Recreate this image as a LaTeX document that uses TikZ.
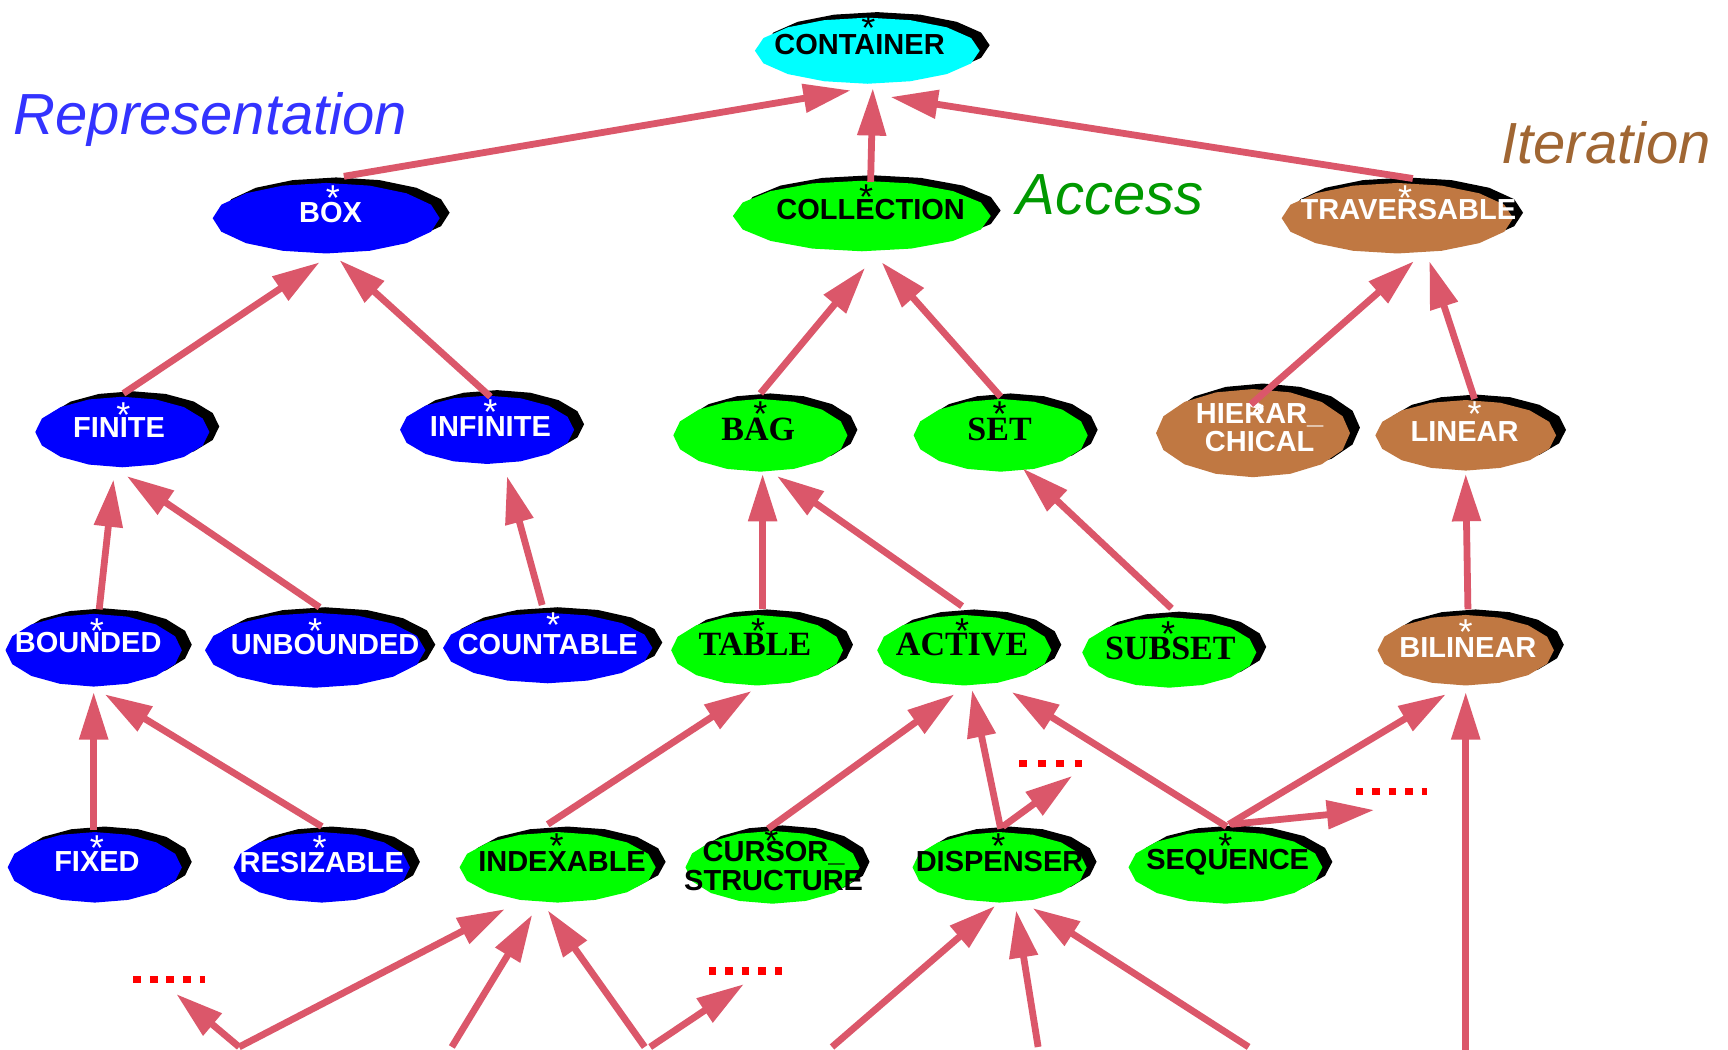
\documentclass[tikz,border=0pt]{standalone}
\usepackage{fontspec}
\setmainfont{Liberation Sans}
\newfontfamily\serifb{Liberation Serif}
\usetikzlibrary{arrows.meta}
\definecolor{arrowc}{RGB}{219,87,106}
\definecolor{brownc}{RGB}{192,120,66}
\definecolor{bluec}{RGB}{0,0,255}
\definecolor{greenc}{RGB}{0,255,0}
\definecolor{cyanc}{RGB}{0,255,255}
\definecolor{repc}{RGB}{51,51,255}
\definecolor{accc}{RGB}{0,153,0}
\definecolor{itc}{RGB}{160,102,51}
\newcommand\classoval[6]{%
  \coordinate (#1) at (#2,#3);
  \fill[black] plot[samples=17,domain=0:360,variable=\t] ({#2+9+#4*cos(\t)},{#3-5+#5*sin(\t)}) -- cycle;
  \fill[#6] plot[samples=17,domain=0:360,variable=\t] ({#2+#4*cos(\t)},{#3+#5*sin(\t)}) -- cycle;
}
\begin{document}
\begin{tikzpicture}[x=0.551pt,y=-0.551pt,
  arr/.style={draw=arrowc, line width=3.4pt, -{Triangle[length=23.7pt,width=13.8pt]}},
  wlbl/.style={font=\fontsize{14.5}{14.3}\selectfont\bfseries, text=white, inner sep=0, align=center},
  klbl/.style={wlbl, text=black},
  slbl/.style={font=\serifb\fontsize{17}{18}\selectfont\bfseries, text=black, inner sep=0},
  wstar/.style={font=\fontsize{18}{18}\selectfont, text=white, inner sep=0, anchor=north},
  kstar/.style={wstar, text=black},
  dots/.style={draw=red, line width=3.6pt},
  grp/.style={font=\fontsize{29}{30}\selectfont\itshape, inner sep=0, anchor=base west}
]
\fill[white] (0,0) rectangle (1568,952);
\useasboundingbox (0,0) rectangle (1568,952);

% group labels
\node[grp, text=repc] (rep) at (12,122) {Representation};
\node[grp, text=accc] (acc) at (922,195) {Access};
\node[grp, text=itc] (iter) at (1362,148) {Iteration};

% row 0
\classoval{CONTAINER}{787}{46}{102}{30}{cyanc}
\node[klbl] (CONTAINER-t) at (780,40) {CONTAINER};
\node[kstar] (CONTAINER-a) at (788,14) {*};

% row 1
\classoval{BOX}{296}{198}{103}{32}{bluec}
\node[wlbl] (BOX-t) at (300,193) {BOX};
\node[wstar] (BOX-a) at (302,168) {*};

\classoval{COLLECTION}{782}{196}{117}{32}{greenc}
\node[klbl] (COLLECTION-t) at (790,190) {COLLECTION};
\node[kstar] (COLLECTION-a) at (786,167) {*};

\classoval{TRAVERSABLE}{1268}{198}{105}{32}{brownc}
\node[wlbl] (TRAVERSABLE-t) at (1278,190) {TRAVERSABLE};
\node[wstar] (TRAVERSABLE-a) at (1275,168) {*};

% row 2
\classoval{FINITE}{111}{392}{79}{32}{bluec}
\node[wlbl] (FINITE-t) at (108,388) {FINITE};
\node[wstar] (FINITE-a) at (112,365) {*};

\classoval{INFINITE}{442}{390}{79}{31}{bluec}
\node[wlbl] (INFINITE-t) at (445,387) {INFINITE};
\node[wstar] (INFINITE-a) at (445,362) {*};

\classoval{BAG}{690}{395}{79}{33}{greenc}
\node[slbl] (BAG-t) at (688,390) {BAG};
\node[kstar] (BAG-a) at (690,364) {*};

\classoval{SET}{908}{395}{79}{33}{greenc}
\node[slbl] (SET-t) at (907,390) {SET};
\node[kstar] (SET-a) at (907,364) {*};

\classoval{HIERAR}{1137}{393}{88}{40}{brownc}
\node[wlbl] (HIERAR-t) at (1143,388) {HIERAR\_\\CHICAL};
\node[wstar] (HIERAR-a) at (1141,364) {*};

\classoval{LINEAR}{1330}{395}{82}{32}{brownc}
\node[wlbl] (LINEAR-t) at (1329,392) {LINEAR};
\node[wstar] (LINEAR-a) at (1338,364) {*};

% row 3
\classoval{BOUNDED}{85}{590}{80}{33}{bluec}
\node[wlbl] (BOUNDED-t) at (80,583) {BOUNDED};
\node[wstar] (BOUNDED-a) at (88,561) {*};

\classoval{UNBOUNDED}{286}{590}{100}{34}{bluec}
\node[wlbl] (UNBOUNDED-t) at (295,585) {UNBOUNDED};
\node[wstar] (UNBOUNDED-a) at (286,561) {*};

\classoval{COUNTABLE}{497}{588}{95}{32}{bluec}
\node[wlbl] (COUNTABLE-t) at (497,585) {COUNTABLE};
\node[wstar] (COUNTABLE-a) at (502,556) {*};

\classoval{TABLE}{687}{590}{78}{32}{greenc}
\node[slbl] (TABLE-t) at (685,585) {TABLE};
\node[kstar] (TABLE-a) at (688,561) {*};

\classoval{ACTIVE}{875}{590}{79}{32}{greenc}
\node[slbl] (ACTIVE-t) at (873,585) {ACTIVE};
\node[kstar] (ACTIVE-a) at (873,561) {*};

\classoval{SUBSET}{1061}{592}{79}{32}{greenc}
\node[slbl] (SUBSET-t) at (1062,588) {SUBSET};
\node[kstar] (SUBSET-a) at (1060,564) {*};

\classoval{BILINEAR}{1330}{590}{80}{32}{brownc}
\node[wlbl] (BILINEAR-t) at (1332,588) {BILINEAR};
\node[wstar] (BILINEAR-a) at (1330,562) {*};

% row 4
\classoval{FIXED}{86}{787}{79}{32}{bluec}
\node[wlbl] (FIXED-t) at (88,782) {FIXED};
\node[wstar] (FIXED-a) at (88,758) {*};

\classoval{RESIZABLE}{292}{787}{80}{32}{bluec}
\node[wlbl] (RESIZABLE-t) at (292,783) {RESIZABLE};
\node[wstar] (RESIZABLE-a) at (290,758) {*};

\classoval{INDEXABLE}{506}{787}{89}{32}{greenc}
\node[klbl] (INDEXABLE-t) at (510,782) {INDEXABLE};
\node[kstar] (INDEXABLE-a) at (505,756) {*};

\classoval{CURSOR}{701}{787}{79}{33}{greenc}
\node[klbl] (CURSOR-t) at (702,786) {CURSOR\_\\STRUCTURE};
\node[kstar] (CURSOR-a) at (700,752) {*};

\classoval{DISPENSER}{907}{787}{79}{32}{greenc}
\node[klbl] (DISPENSER-t) at (907,782) {DISPENSER};
\node[kstar] (DISPENSER-a) at (906,756) {*};

\classoval{SEQUENCE}{1112}{787}{88}{33}{greenc}
\node[klbl] (SEQUENCE-t) at (1114,782) {SEQUENCE};
\node[kstar] (SEQUENCE-a) at (1112,756) {*};

% dashed "more" markers
\coordinate (d1a) at (925,693); \coordinate (d1b) at (982,693);
\coordinate (d2a) at (1230,718); \coordinate (d2b) at (1295,718);
\coordinate (d3a) at (121,889); \coordinate (d3b) at (186,889);
\coordinate (d4a) at (643,881); \coordinate (d4b) at (710,881);
\draw[dots, dash pattern=on 3.86pt off 5.35pt] (d1a) -- (d1b);
\draw[dots, dash pattern=on 3.86pt off 4.41pt] (d2a) -- (d2b);
\draw[dots, dash pattern=on 3.86pt off 4.41pt] (d3a) -- (d3b);
\draw[dots, dash pattern=on 3.86pt off 4.41pt] (d4a) -- (d4b);
\coordinate (d1tip) at (973,704);
\coordinate (d2tip) at (1247,735);
\coordinate (d3tip) at (160,902);
\coordinate (d4tip) at (675,893);

% free lower ends
\coordinate (b1) at (217,950);
\coordinate (b2) at (410,950);
\coordinate (b3) at (585,950);
\coordinate (b4) at (590,950);
\coordinate (b5) at (755,950);
\coordinate (b6) at (942,950);
\coordinate (b7) at (1133,950);
\coordinate (b9) at (1330,955);

% connectors
\draw[arr] ([shift={(16,-38)}]BOX) -- ([shift={(-15,36)}]CONTAINER);
\draw[arr] ([shift={(8,-31)}]COLLECTION) -- ([shift={(5,34)}]CONTAINER);
\draw[arr] ([shift={(14,-36)}]TRAVERSABLE) -- ([shift={(21,42)}]CONTAINER);
\draw[arr] ([shift={(1,-35)}]FINITE) -- ([shift={(-6,40)}]BOX);
\draw[arr] ([shift={(3,-30)}]INFINITE) -- ([shift={(12,38)}]BOX);
\draw[arr] ([shift={(0,-38)}]BAG) -- ([shift={(3,47)}]COLLECTION);
\draw[arr] ([shift={(0,-35)}]SET) -- ([shift={(18,42)}]COLLECTION);
\draw[arr] ([shift={(-2,-26)}]HIERAR) -- ([shift={(15,39)}]TRAVERSABLE);
\draw[arr] ([shift={(8,-33)}]LINEAR) -- ([shift={(29,39)}]TRAVERSABLE);
\draw[arr] ([shift={(5,-37)}]BOUNDED) -- ([shift={(-8,43)}]FINITE);
\draw[arr] ([shift={(4,-39)}]UNBOUNDED) -- ([shift={(4,40)}]FINITE);
\draw[arr] ([shift={(-5,-39)}]COUNTABLE) -- ([shift={(18,42)}]INFINITE);
\draw[arr] ([shift={(5,-37)}]TABLE) -- ([shift={(2,35)}]BAG);
\draw[arr] ([shift={(-2,-40)}]ACTIVE) -- ([shift={(15,37)}]BAG);
\draw[arr] ([shift={(2,-40)}]SUBSET) -- ([shift={(20,30)}]SET);
\draw[arr] ([shift={(2,-37)}]BILINEAR) -- ([shift={(0,35)}]LINEAR);
\draw[arr] ([shift={(-1,-34)}]FIXED) -- ([shift={(0,38)}]BOUNDED);
\draw[arr] ([shift={(0,-37)}]RESIZABLE) -- ([shift={(10,40)}]BOUNDED);
\draw[arr] ([shift={(-9,-39)}]INDEXABLE) -- ([shift={(-5,37)}]TABLE);
\draw[arr] ([shift={(-4,-35)}]CURSOR) -- ([shift={(-9,40)}]ACTIVE);
\draw[arr] ([shift={(1,-35)}]DISPENSER) -- ([shift={(7,36)}]ACTIVE);
\draw[arr] ([shift={(3,-37)}]DISPENSER) -- (d1tip);
\draw[arr] ([shift={(1,-37)}]SEQUENCE) -- ([shift={(43,38)}]ACTIVE);
\draw[arr] ([shift={(3,-39)}]SEQUENCE) -- ([shift={(-18,40)}]BILINEAR);
\draw[arr] ([shift={(5,-39)}]SEQUENCE) -- (d2tip);
\draw[arr] (b9) -- ([shift={(0,38)}]BILINEAR);
\draw[arr] (b1) -- ([shift={(-48,38)}]INDEXABLE);
\draw[arr] (b1) -- (d3tip);
\draw[arr] (b2) -- ([shift={(-23,43)}]INDEXABLE);
\draw[arr] (b3) -- ([shift={(-9,39)}]INDEXABLE);
\draw[arr] (b4) -- (d4tip);
\draw[arr] (b5) -- ([shift={(-4,35)}]DISPENSER);
\draw[arr] (b6) -- ([shift={(15,39)}]DISPENSER);
\draw[arr] (b7) -- ([shift={(30,37)}]DISPENSER);
\end{tikzpicture}
\end{document}
